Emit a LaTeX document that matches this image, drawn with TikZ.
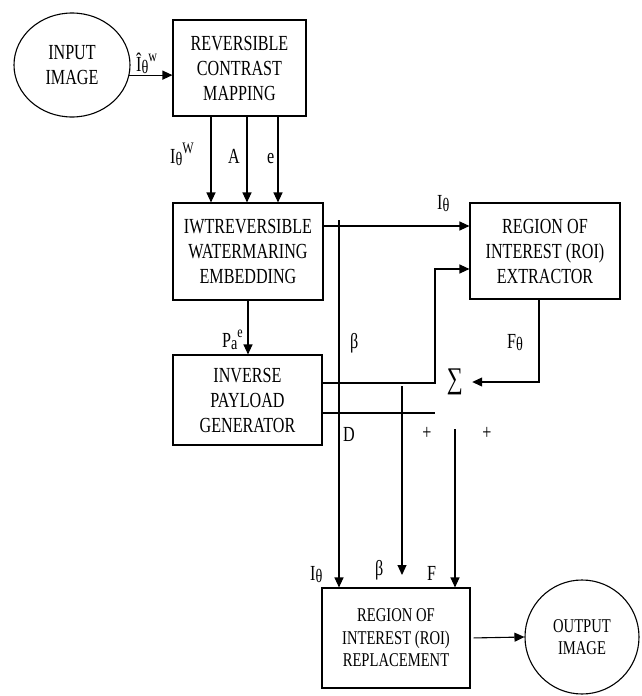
\documentclass[tikz,border=0pt]{standalone}
\usepackage{fontspec}
\setmainfont{Liberation Serif}[FakeStretch=0.75]
\usetikzlibrary{arrows.meta,shapes.geometric,calc}
\newcommand{\mysub}[1]{\raisebox{-0.3ex}{\fontsize{19}{19}\selectfont #1}}
\newcommand{\mysup}[1]{\raisebox{1.0ex}{\fontsize{16}{16}\selectfont #1}}
\begin{document}
\begin{tikzpicture}[x=1pt,y=-1pt,
  every node/.style={font=\fontsize{21.5}{25}\selectfont},
  blk/.style={draw,line width=1.1pt,inner sep=0pt,align=center},
  sm/.style={font=\fontsize{19.5}{22.5}\selectfont},
  arr/.style={line width=1.1pt,-{Triangle[length=10pt,width=9pt]}},
  ln/.style={line width=1.1pt},
  lbl/.style={inner sep=0pt,anchor=base west}]
\useasboundingbox (0,0) rectangle (642,696);
% nodes
\node[blk,ellipse,minimum width=116pt,minimum height=104pt] (inimg) at (72,65) {INPUT\\IMAGE};
\node[blk,minimum width=133pt,minimum height=96pt] (rcm) at (239.5,68) {REVERSIBLE\\CONTRAST\\MAPPING};
\node[blk,minimum width=150pt,minimum height=97pt] (iwt) at (248,251.5) {IWTREVERSIBLE\\WATERMARING\\EMBEDDING};
\node[blk,minimum width=150pt,minimum height=96pt] (roix) at (545,251) {REGION OF\\INTEREST (ROI)\\EXTRACTOR};
\node[blk,minimum width=149pt,minimum height=90pt] (ipg) at (247.5,400) {INVERSE\\PAYLOAD\\GENERATOR};
\node[blk,sm,minimum width=148pt,minimum height=100pt] (roir) at (396,638) {REGION OF\\INTEREST (ROI)\\REPLACEMENT};
\node[blk,sm,circle,minimum size=114pt] (outimg) at (582,637) {OUTPUT\\IMAGE};
\node[inner sep=0pt,minimum width=34pt,font=\fontsize{30}{30}\selectfont] (sigma) at (455,382) {∑};
% free-end coordinates
\coordinate (bend) at (435,269);
\coordinate (dend) at (435,413);
\coordinate (vtop) at (339,220);
\coordinate (btop) at (402,386);
\coordinate (bend2) at (402,575);
\coordinate (ftop) at (455,429);
% connectors
\draw[arr] (inimg.-10) -- (inimg.-10 -| rcm.west);
\draw[arr] ([xshift=-28.5pt]rcm.south) -- ([xshift=-28.5pt]rcm.south |- iwt.north);
\draw[arr] ([xshift=7.5pt]rcm.south) -- ([xshift=7.5pt]rcm.south |- iwt.north);
\draw[arr] ([xshift=38.5pt]rcm.south) -- ([xshift=38.5pt]rcm.south |- iwt.north);
\draw[arr] ([yshift=25.5pt]iwt.east) -- ([yshift=25.5pt]iwt.east -| roix.west);
\draw[arr] (iwt.south) -- (iwt.south |- ipg.north);
\draw[arr] (vtop) -- (vtop |- roir.north);
\draw[arr] ([yshift=17pt]ipg.east) -| (bend) -- (bend -| roix.west);
\draw[ln] ([yshift=-13pt]ipg.east) -- (dend);
\draw[arr] (btop) -- (bend2);
\draw[arr] (ftop) -- (ftop |- roir.north);
\draw[arr] ([xshift=-6pt]roix.south) |- (sigma.east);
\draw[arr,shorten <=3pt] (roir.east) -- (outimg.west);
% labels
\node[lbl] (l1) at (136,71) {Î\mysub{θ}\mysup{w}};
\node[lbl] (l2) at (170,163) {I\mysub{θ}\mysup{W}};
\node[lbl] (l3) at (228,163) {A};
\node[lbl] (l4) at (267,163) {e};
\node[lbl] (l5) at (437,209) {I\mysub{θ}};
\node[lbl] (l6) at (350,348) {β};
\node[lbl] (l7) at (222,347) {P\mysub{a}\mysup{e}};
\node[lbl] (l8) at (507,348) {F\mysub{θ}};
\node[lbl] (l9) at (343,441) {D};
\node[inner sep=0pt] (p1) at (427,433) {+};
\node[inner sep=0pt] (p2) at (487,433) {+};
\node[lbl] (l10) at (310,580) {I\mysub{θ}};
\node[lbl] (l11) at (375,575) {β};
\node[lbl] (l12) at (427,580) {F};
\end{tikzpicture}
\end{document}
